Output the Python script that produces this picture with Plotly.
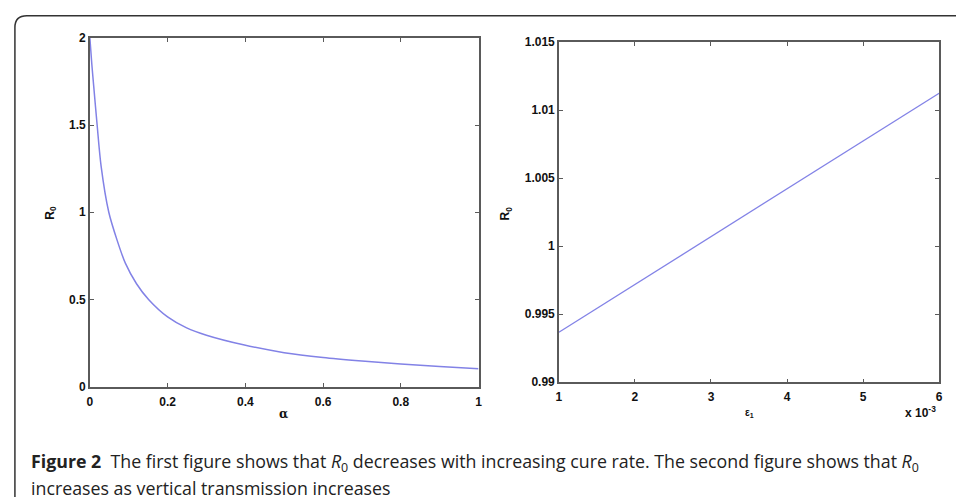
import plotly.graph_objects as go

# Left panel: R0 vs cure rate alpha
alpha = [0, 0.005, 0.01, 0.0187, 0.029, 0.0487, 0.07, 0.0913, 0.12, 0.151,
         0.2, 0.249, 0.3, 0.395, 0.5, 0.6, 0.7, 0.8, 0.9, 1.0]
r0_alpha = [2.0, 1.85, 1.72, 1.5, 1.263, 1.0, 0.84, 0.708, 0.59, 0.5,
            0.40, 0.337, 0.295, 0.24, 0.195, 0.167, 0.147, 0.13, 0.115, 0.102]

# Right panel: R0 vs vertical transmission epsilon_1
eps1 = [0.001, 0.002, 0.003, 0.004, 0.005, 0.006]
r0_eps = [0.99367, 0.99718, 1.0007, 1.0042, 1.0077, 1.01124]

left_xticks = [0, 0.2, 0.4, 0.6, 0.8, 1]
left_xlabels = ["0", "0.2", "0.4", "0.6", "0.8", "1"]
left_yticks = [0, 0.5, 1, 1.5, 2]
left_ylabels = ["0", "0.5", "1", "1.5", "2"]
right_xticks = [0.001, 0.002, 0.003, 0.004, 0.005, 0.006]
right_xlabels = ["1", "2", "3", "4", "5", "6"]
right_yticks = [0.99, 0.995, 1.0, 1.005, 1.01, 1.015]
right_ylabels = ["0.99", "0.995", "1", "1.005", "1.01", "1.015"]

W, H = 960, 504
line_col = "#8282e6"
axis_col = "#5a5a5a"
tickfont = dict(family="Liberation Sans, Arial", size=12, color="#111", weight="bold")

fig = go.Figure()
fig.add_trace(go.Scatter(x=alpha, y=r0_alpha, mode="lines",
                         line=dict(color=line_col, width=1.5, shape="spline", smoothing=0.8),
                         xaxis="x", yaxis="y", showlegend=False))
fig.add_trace(go.Scatter(x=eps1, y=r0_eps, mode="lines", line=dict(color=line_col, width=1.3),
                         xaxis="x2", yaxis="y2", showlegend=False))

def ax(**kw):
    base = dict(showgrid=False, zeroline=False, showline=True, mirror="ticks",
                linecolor=axis_col, linewidth=1.5, ticks="inside", ticklen=4,
                tickcolor=axis_col, tickwidth=1, tickfont=tickfont, tickmode="array")
    base.update(kw)
    return base

def px(xp):
    return xp / W

def py(yp):
    return 1 - yp / H

fig.update_layout(
    width=W, height=H, margin=dict(l=0, r=0, t=0, b=0),
    paper_bgcolor="white", plot_bgcolor="white",
    xaxis=ax(domain=[px(87.5), px(479)], range=[0, 1], tickvals=left_xticks, ticktext=left_xlabels,
             anchor="y", ticklabelstandoff=3),
    yaxis=ax(domain=[py(390.5), py(31.7)], range=[0, 2], tickvals=left_yticks, ticktext=left_ylabels,
             anchor="x", ticklabelstandoff=0),
    xaxis2=ax(domain=[px(560), px(943)], range=[0.001, 0.006], tickvals=right_xticks, ticktext=right_xlabels,
              anchor="y2", ticklabelstandoff=3),
    yaxis2=ax(domain=[py(386), py(36)], range=[0.99, 1.015], tickvals=right_yticks, ticktext=right_ylabels,
              anchor="x2", ticklabelstandoff=0),
)

lab = dict(family="Liberation Sans, Arial", size=12, color="#111", weight="bold")
annos = [
    dict(x=px(283), y=py(419), text="α", font=dict(family="DejaVu Serif", size=12, color="#111", weight="bold")),
    dict(x=px(48), y=py(212), text="R<sub>0</sub>", textangle=-90, font=lab),
    dict(x=px(507), y=py(212), text="R<sub>0</sub>", textangle=-90, font=lab),
    dict(x=px(752), y=py(418), text="ε<sub>1</sub>", font=dict(family="Liberation Sans, Arial", size=10, color="#111", weight="bold")),
    dict(x=px(924), y=py(417), text="x 10<sup>-3</sup>", font=lab),
]
cap_font = dict(family="Open Sans", size=17.8, color="#222")
annos += [
    dict(x=px(26), y=py(468), xanchor="left",
         text="<b>Figure 2</b>  The first figure shows that <i>R</i><sub>0</sub> decreases with increasing cure rate. The second figure shows that <i>R</i><sub>0</sub>",
         font=cap_font),
    dict(x=px(26), y=py(495), xanchor="left", text="increases as vertical transmission increases", font=cap_font),
]
for a in annos:
    a.setdefault("xanchor", "center")
    a.update(xref="paper", yref="paper", yanchor="middle", showarrow=False)
fig.update_layout(annotations=annos)

# rounded outer frame (open to the right and bottom, as in the figure crop)
r = 12
path = (f"M {px(12)},{py(504)} L {px(12)},{py(9 + r)} "
        f"Q {px(12)},{py(9)} {px(12 + r)},{py(9)} L {px(960)},{py(9)}")
fig.add_shape(type="path", path=path, xref="paper", yref="paper",
              line=dict(color="#333", width=1.5))

fig.write_html("out.html")
